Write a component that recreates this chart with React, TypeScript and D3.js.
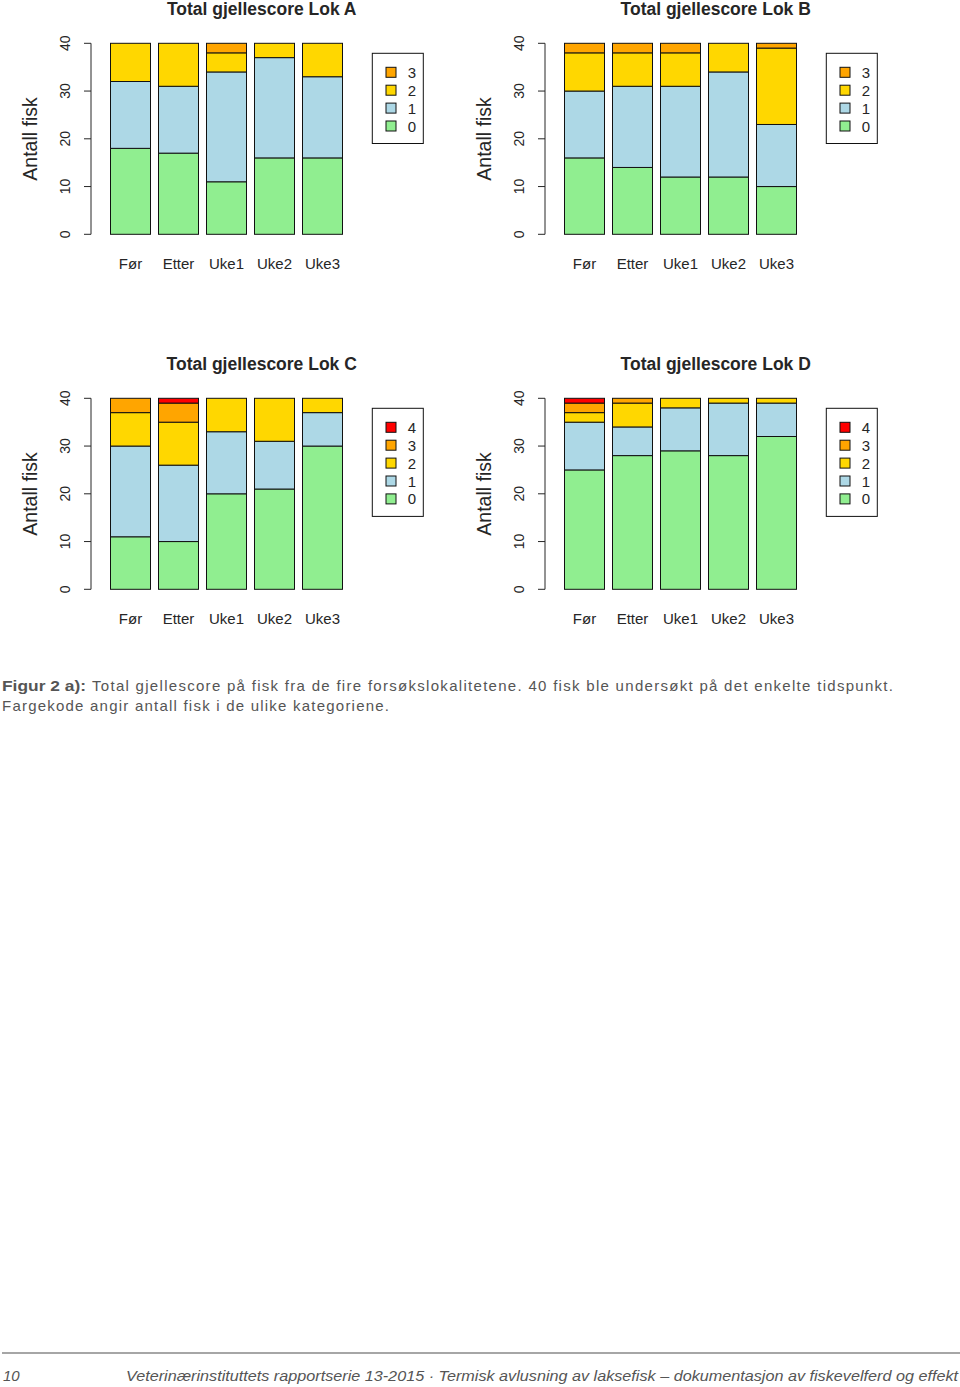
import React from "react";
import * as d3 from "d3";

const categories = ["Før", "Etter", "Uke1", "Uke2", "Uke3"];
const levels = ["0", "1", "2", "3", "4"];
const levelColors = ["#90EE90", "#ADD8E6", "#FFD700", "#FFA500", "#FF0000"];
const yTicks = [0, 10, 20, 30, 40];

// Lok A
const lokA_0 = [18, 17, 11, 16, 16];
const lokA_1 = [14, 14, 23, 21, 17];
const lokA_2 = [8, 9, 4, 3, 7];
const lokA_3 = [0, 0, 2, 0, 0];
// Lok B
const lokB_0 = [16, 14, 12, 12, 10];
const lokB_1 = [14, 17, 19, 22, 13];
const lokB_2 = [8, 7, 7, 6, 16];
const lokB_3 = [2, 2, 2, 0, 1];
// Lok C
const lokC_0 = [11, 10, 20, 21, 30];
const lokC_1 = [19, 16, 13, 10, 7];
const lokC_2 = [7, 9, 7, 9, 3];
const lokC_3 = [3, 4, 0, 0, 0];
const lokC_4 = [0, 1, 0, 0, 0];
// Lok D
const lokD_0 = [25, 28, 29, 28, 32];
const lokD_1 = [10, 6, 9, 11, 7];
const lokD_2 = [2, 5, 2, 1, 1];
const lokD_3 = [2, 1, 0, 0, 0];
const lokD_4 = [1, 0, 0, 0, 0];

const panels = [
  { title: "Total gjellescore Lok A", series: [lokA_0, lokA_1, lokA_2, lokA_3], dx: 0, dy: 0 },
  { title: "Total gjellescore Lok B", series: [lokB_0, lokB_1, lokB_2, lokB_3], dx: 454, dy: 0 },
  { title: "Total gjellescore Lok C", series: [lokC_0, lokC_1, lokC_2, lokC_3, lokC_4], dx: 0, dy: 355 },
  { title: "Total gjellescore Lok D", series: [lokD_0, lokD_1, lokD_2, lokD_3, lokD_4], dx: 454, dy: 355 },
];

const captionBold = "Figur 2 a):";
const captionLine1 = "Total gjellescore på fisk fra de fire forsøkslokalitetene. 40 fisk ble undersøkt på det enkelte tidspunkt.";
const captionLine2 = "Fargekode angir antall fisk i de ulike kategoriene.";
const footerPage = "10";
const footerText = "Veterinærinstituttets rapportserie 13-2015 · Termisk avlusning av laksefisk – dokumentasjon av fiskevelferd og effekt";

const FONT = "'Liberation Sans', Arial, sans-serif";
const TXT = "#262626";

function Panel({ p }: { p: typeof panels[number] }) {
  const x = d3.scaleBand<string>().domain(categories).range([110.5, 342.5]).paddingInner(1 / 6).paddingOuter(0);
  const y = d3.scaleLinear().domain([0, 40]).range([234.3, 43.3]);
  const keys = levels.slice(0, p.series.length);
  const rows = categories.map((c, i) => {
    const r: any = { cat: c };
    keys.forEach((k, j) => (r[k] = p.series[j][i]));
    return r;
  });
  const stacked = d3.stack<any>().keys(keys)(rows);
  const n = keys.length;
  const legTop = 53.3;
  const rowH = 17.9;
  const legH = 19 + (n - 1) * rowH + 17.5;
  return (
    <g transform={`translate(${p.dx},${p.dy})`}>
      <text x={261.7} y={15} textAnchor="middle" fontFamily={FONT} fontWeight="bold" fontSize={17.5} fill={TXT}>
        {p.title}
      </text>
      {/* y axis */}
      <line x1={91} x2={91} y1={y(0)} y2={y(40)} stroke={TXT} strokeWidth={1} />
      {yTicks.map((t) => (
        <g key={t}>
          <line x1={84} x2={91} y1={y(t)} y2={y(t)} stroke={TXT} strokeWidth={1} />
          <text
            transform={`translate(70,${y(t)}) rotate(-90)`}
            textAnchor="middle"
            fontFamily={FONT}
            fontSize={14}
            fill={TXT}
          >
            {t}
          </text>
        </g>
      ))}
      <text
        transform={`translate(36.5,139) rotate(-90)`}
        textAnchor="middle"
        fontFamily={FONT}
        fontSize={19.5}
        fill={TXT}
      >
        Antall fisk
      </text>
      {/* bars */}
      {stacked.map((s, j) =>
        s.map((d, i) =>
          d[1] - d[0] > 0 ? (
            <rect
              key={`${j}-${i}`}
              x={x(categories[i])}
              width={x.bandwidth()}
              y={y(d[1])}
              height={y(d[0]) - y(d[1])}
              fill={levelColors[j]}
              stroke="#111"
              strokeWidth={1}
            />
          ) : null
        )
      )}
      {categories.map((c) => (
        <text key={c} x={(x(c) as number) + x.bandwidth() / 2} y={268.5} textAnchor="middle" fontFamily={FONT} fontSize={15} fill={TXT}>
          {c}
        </text>
      ))}
      {/* legend */}
      <rect x={372.3} y={legTop} width={51} height={legH} fill="white" stroke="#111" strokeWidth={1} />
      {keys
        .slice()
        .reverse()
        .map((k, idx) => {
          const j = n - 1 - idx;
          const cy = legTop + 19 + idx * rowH;
          return (
            <g key={k}>
              <rect x={386} y={cy - 5} width={10} height={10} fill={levelColors[j]} stroke="#111" strokeWidth={1} />
              <text x={412} y={cy + 5.5} textAnchor="middle" fontFamily={FONT} fontSize={15} fill={TXT}>
                {k}
              </text>
            </g>
          );
        })}
    </g>
  );
}

export default function App() {
  return (
    <svg width={960} height={1387} style={{ position: "absolute", left: 0, top: 0, background: "white" }}>
      <rect x={0} y={0} width={960} height={1387} fill="white" />
      {panels.map((p) => (
        <Panel key={p.title} p={p} />
      ))}
      <text x={2} y={691} fontFamily={FONT} fontSize={15} fontWeight="bold" fill="#555" textLength={84} lengthAdjust="spacingAndGlyphs">
        {captionBold}
      </text>
      <text x={92} y={691} fontFamily={FONT} fontSize={15} fill="#555" textLength={801} lengthAdjust="spacing">
        {captionLine1}
      </text>
      <text x={2} y={711} fontFamily={FONT} fontSize={15} fill="#555" textLength={387} lengthAdjust="spacing">
        {captionLine2}
      </text>
      <line x1={2} x2={960} y1={1353} y2={1353} stroke="#888" strokeWidth={1.5} />
      <text x={3} y={1381} fontFamily={FONT} fontSize={15} fontStyle="italic" fill="#555">
        {footerPage}
      </text>
      <text x={126} y={1381} fontFamily={FONT} fontSize={15} fontStyle="italic" fill="#555" textLength={832} lengthAdjust="spacingAndGlyphs">
        {footerText}
      </text>
    </svg>
  );
}
